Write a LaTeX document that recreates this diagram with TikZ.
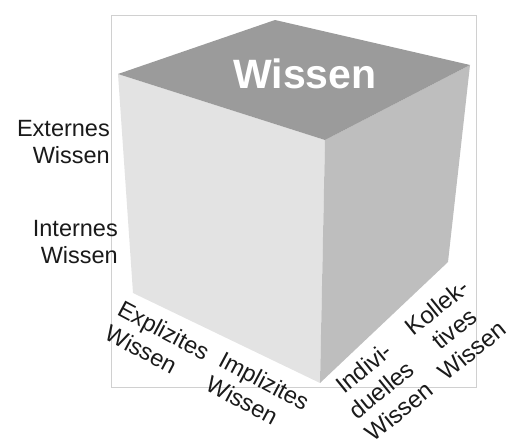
\documentclass[tikz,border=0pt]{standalone}
\usepackage{fontspec}
\setmainfont{Liberation Sans}
\definecolor{topface}{HTML}{9B9B9B}
\definecolor{frontface}{HTML}{E3E3E3}
\definecolor{rightface}{HTML}{BEBEBE}
\definecolor{framegray}{HTML}{D0D0D0}
\definecolor{labeltext}{HTML}{1A1A1A}
\begin{document}
\begin{tikzpicture}[x=1pt,y=-1pt,
  lbl/.style={font=\fontsize{23.5}{27.5}\selectfont, inner sep=0pt, text=labeltext},
  rlbl/.style={font=\fontsize{24}{28}\selectfont, inner sep=0pt, text=labeltext, align=center, anchor=north, rotate=39}]
\useasboundingbox (0,0) rectangle (508,439);
% frame
\draw[framegray, line width=0.8pt] (111,15) rectangle (476,387);
% cube corners
\coordinate (A) at (118,74);
\coordinate (B) at (275,20);
\coordinate (C) at (470,65);
\coordinate (D) at (325,140);
\coordinate (E) at (133,293);
\coordinate (F) at (320,383);
\coordinate (G) at (448,262);
\fill[frontface] (A) -- (D) -- (F) -- (E) -- cycle;
\fill[rightface] (D) -- (C) -- (G) -- (F) -- cycle;
\fill[topface] (A) -- (B) -- (C) -- (D) -- cycle;
% title
\node[font=\fontsize{41}{45}\selectfont\bfseries, text=white, inner sep=0pt, anchor=base] (title) at (305,88) {Wissen};
% left labels
\node[lbl, align=right, anchor=north east] (ext) at (110,120) {Externes\\Wissen};
\node[lbl, align=right, anchor=north east] (int) at (118,220) {Internes\\Wissen};
% bottom left labels
\node[lbl, align=left, anchor=north west, rotate=-28] (expl) at (124,299) {Explizites\\Wissen};
\node[lbl, align=left, anchor=north west, rotate=-28] (impl) at (225,350) {Implizites\\Wissen};
% bottom right labels
\node[rlbl] (indiv) at (358,361) {Indivi-\\duelles\\Wissen};
\node[rlbl] (koll) at (431,300) {Kollek-\\tives\\Wissen};
\end{tikzpicture}
\end{document}
